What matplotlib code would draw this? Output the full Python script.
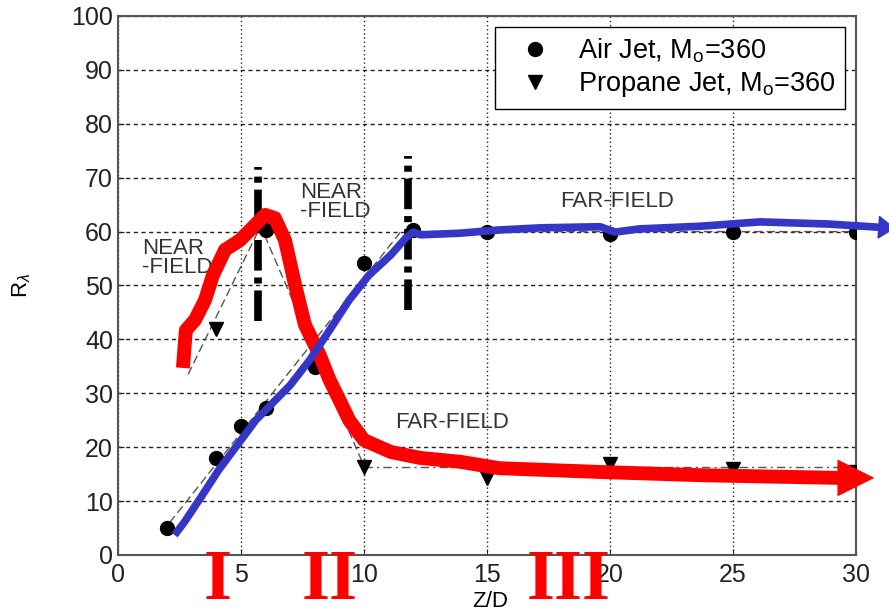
import matplotlib
matplotlib.use("Agg")
import matplotlib.pyplot as plt

plt.rcParams["font.family"] = ["Liberation Sans", "DejaVu Sans"]
plt.rcParams["mathtext.fontset"] = "custom"
plt.rcParams["mathtext.rm"] = "Liberation Sans"
plt.rcParams["mathtext.it"] = "Liberation Sans:italic"

# measured points
air_x = [2, 4, 5, 6, 6, 8, 10, 12, 15, 20, 25, 30]
air_y = [5, 18, 24, 27.3, 60.3, 34.8, 54.2, 60.3, 60, 59.6, 60, 60]
propane_x = [4, 10, 15, 20, 25, 30]
propane_y = [42, 16.3, 14.3, 16.9, 16, 15.4]

# thin gray fit lines
air_fit_x = [2.1, 11.5, 30]
air_fit_y = [6, 60, 60]
prop_near_x = [2.85, 5.8, 10]
prop_near_y = [33.5, 61, 16.5]
prop_far_x = [10, 30]
prop_far_y = [16.3, 16.3]

# thick dash-dot region boundaries
bound_x = [5.7, 11.8]
bound_lo = [43.5, 45.5]
bound_hi = [72, 74]

# hand drawn trend curves (last point = arrow tip)
red_x = [2.64, 2.76, 3.13, 3.54, 3.86, 4.35, 4.96, 5.57, 5.98, 6.38, 6.79, 7.2,
         7.6, 8.2, 8.6, 9.0, 9.4, 10.0, 11.1, 12.3, 13.9, 15.5, 19.6, 23.7, 29.3, 30.75]
red_y = [34.7, 41.7, 43.6, 47.3, 51.9, 56.6, 58.4, 61.2, 63.1, 62.5, 58.4, 50.1,
         42.7, 37.1, 32.5, 28.8, 25.0, 21.3, 19.1, 18.0, 17.3, 16.1, 15.4, 14.8, 14.3, 14.3]
blue_x = [2.3, 2.7, 3.3, 4.1, 5.0, 5.6, 6.2, 7.0, 7.8, 8.6, 9.4, 10.2, 11.1, 11.7,
          12.0, 12.3, 13.9, 15.5, 17.2, 19.6, 20.2, 21.2, 23.7, 26.1, 28.9, 30.95, 31.6]
blue_y = [3.7, 6.1, 10.2, 15.8, 21.3, 25, 27.8, 31.5, 36.2, 41.7, 47.3, 51.9, 55.7, 58.8,
          59.9, 59.4, 59.7, 60.3, 60.7, 60.9, 59.9, 60.5, 61, 61.8, 61.4, 60.8, 60.6]

regions = ["I", "II", "III"]
region_x = [4.07, 8.6, 18.3]

fig = plt.figure(figsize=(8.89, 6.15), dpi=100)
ax = fig.add_axes([0.1327, 0.0976, 0.8301, 0.8764])

ax.set_xlim(0, 30)
ax.set_ylim(0, 100)
ax.set_xticks(range(0, 31, 5))
ax.set_yticks(range(0, 101, 10))
ax.tick_params(labelsize=18, colors="#222222", direction="in", length=4)
ax.tick_params(axis="x", pad=6)
for s in ax.spines.values():
    s.set_color("#555555")
    s.set_linewidth(1.5)

ax.set_axisbelow(True)
ax.yaxis.grid(True, color="#222222", lw=1.0, linestyle=(0, (3, 2.5)))
ax.xaxis.grid(True, color="#222222", lw=1.0, linestyle=(0, (1, 2)))

ax.plot(air_fit_x, air_fit_y, color="#555555", lw=1.0, ls=(0, (6, 3)), zorder=2)
ax.plot(prop_near_x, prop_near_y, color="#555555", lw=1.0, ls=(0, (6, 3)), zorder=2)
ax.plot(prop_far_x, prop_far_y, color="#555555", lw=1.0, ls=(0, (6, 3, 1.5, 3)), zorder=2)

ax.plot(air_x, air_y, "o", color="black", ms=10, ls="none", zorder=3,
        label=r"Air Jet, M$_\mathregular{o}$=360")
ax.plot(propane_x, propane_y, "v", color="black", ms=10, ls="none", zorder=3,
        label=r"Propane Jet, M$_\mathregular{o}$=360")

ax.vlines(bound_x, bound_lo, bound_hi, colors="black", lw=5.5,
          linestyles=[(0, (4, 0.9, 0.8, 0.9))], zorder=4)

ax.text(0.98, 58.8, "NEAR\n-FIELD", fontsize=16, color="#333333", va="top", ha="left",
        linespacing=0.9, zorder=3)
ax.text(7.4, 69.2, "NEAR\n-FIELD", fontsize=16, color="#333333", va="top", ha="left",
        linespacing=0.9, zorder=3)
ax.text(17.97, 65.5, "FAR-FIELD", fontsize=16, color="#333333", va="center", ha="left", zorder=3)
ax.text(11.26, 24.5, "FAR-FIELD", fontsize=16, color="#333333", va="center", ha="left", zorder=3)

# red curve with arrow head
ax.plot(red_x[:-1], red_y[:-1], color="#ff0000", lw=10, solid_capstyle="butt",
        solid_joinstyle="round", zorder=5, clip_on=False)
ax.annotate("", xy=(red_x[-1], red_y[-1]), xytext=(red_x[-2], red_y[-2]),
            arrowprops=dict(arrowstyle="-|>,head_length=0.5,head_width=0.25",
                            mutation_scale=50, color="#ff0000", lw=1,
                            shrinkA=0, shrinkB=0),
            annotation_clip=False, zorder=5)

# blue curve with arrow head
ax.plot(blue_x[:-1], blue_y[:-1], color="#3535c8", lw=5.5, solid_capstyle="butt",
        solid_joinstyle="round", zorder=6, clip_on=False)
ax.annotate("", xy=(blue_x[-1], blue_y[-1]), xytext=(blue_x[-2], blue_y[-2]),
            arrowprops=dict(arrowstyle="-|>,head_length=0.5,head_width=0.35",
                            mutation_scale=22, color="#3535c8", lw=1,
                            shrinkA=0, shrinkB=0),
            annotation_clip=False, zorder=6)

for lab, rx in zip(regions, region_x):
    ax.text(rx, -5.0, lab, fontsize=52, fontweight="bold", family="Liberation Serif",
            color="#ff0000", ha="center", va="center", clip_on=False, zorder=7)

leg = ax.legend(loc="upper right", bbox_to_anchor=(0.985, 0.98), fontsize=19.5,
                frameon=True, fancybox=False, edgecolor="black", framealpha=1,
                handletextpad=0.5, labelspacing=0.2, borderpad=0.35, handlelength=2.2,
                borderaxespad=0)
leg.get_frame().set_linewidth(1.0)
leg.set_zorder(8)

ax.set_ylabel(r"R$_\lambda$", fontsize=16)
ax.yaxis.set_label_coords(-0.115, 0.5)
ax.set_xlabel("Z/D", fontsize=16)
ax.xaxis.set_label_coords(0.505, -0.066)

fig.savefig("out.png", dpi=100)
